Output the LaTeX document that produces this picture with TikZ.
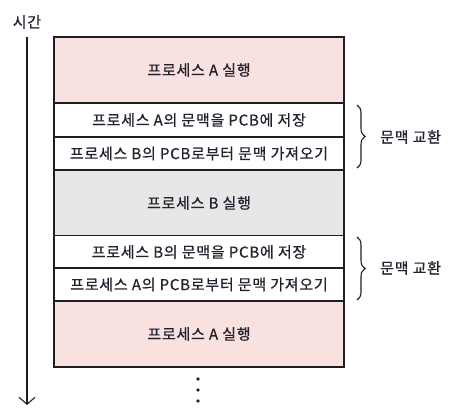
\documentclass[tikz,border=0pt]{standalone}
\usepackage{fontspec}
\setmainfont{Noto Sans CJK KR}
\newfontfamily\kr[LetterSpace=5,FakeBold=0.6]{Noto Sans CJK KR}
\usetikzlibrary{arrows.meta,decorations.pathreplacing}
\definecolor{pinkc}{HTML}{F9E1E0}
\definecolor{grayc}{HTML}{E6E7E6}
\definecolor{linec}{HTML}{1E1E24}
\definecolor{txt}{HTML}{22222E}
\newcommand{\fs}{\kr\fontsize{15}{18}\selectfont}
\begin{document}
\begin{tikzpicture}[x=1pt,y=-1pt,
  box/.style={draw=linec, line width=1.2pt, minimum width=290pt, inner sep=0pt, font=\fs, text=txt},
  tall/.style={box, minimum height=66pt},
  short/.style={box, minimum height=33pt, fill=white},
  lab/.style={font=\fs, text=txt, inner sep=0pt},
  brc/.style={draw=linec, line width=1.1pt, decorate, decoration={brace, amplitude=8pt}},
  dotc/.style={fill=txt, draw=none}]
\useasboundingbox (0,0) rectangle (450,416);
% time axis
\node[lab] (time) at (27,22) {시간};
\coordinate (t0) at (27,37);
\coordinate (t1) at (27,405);
\draw[linec, line width=1.1pt, -{Straight Barb[length=7pt,width=16pt]}] (t0) -- (t1);
% boxes
\node[tall, fill=pinkc] (a1) at (199,70) {프로세스 A 실행};
\node[short] (s1) at (199,120) {프로세스 A의 문맥을 PCB에 저장};
\node[short] (l1) at (199,153.5) {프로세스 B의 PCB로부터 문맥 가져오기};
\node[tall, fill=grayc] (b1) at (199,203) {프로세스 B 실행};
\node[short] (s2) at (199,252) {프로세스 B의 문맥을 PCB에 저장};
\node[short] (l2) at (199,284.5) {프로세스 A의 PCB로부터 문맥 가져오기};
\node[tall, fill=pinkc] (a2) at (199,334) {프로세스 A 실행};
% braces
\coordinate (b1t) at (357,105);
\coordinate (b1b) at (357,168);
\coordinate (b2t) at (357,237);
\coordinate (b2b) at (357,300);
\draw[brc] (b1t) -- (b1b);
\draw[brc] (b2t) -- (b2b);
\node[lab, anchor=west] (cs1) at (380,137) {문맥 교환};
\node[lab, anchor=west] (cs2) at (380,268) {문맥 교환};
% dots
\fill[dotc] (198,379) circle (1.8pt);
\fill[dotc] (198,390) circle (1.8pt);
\fill[dotc] (198,401) circle (1.8pt);
\end{tikzpicture}
\end{document}
